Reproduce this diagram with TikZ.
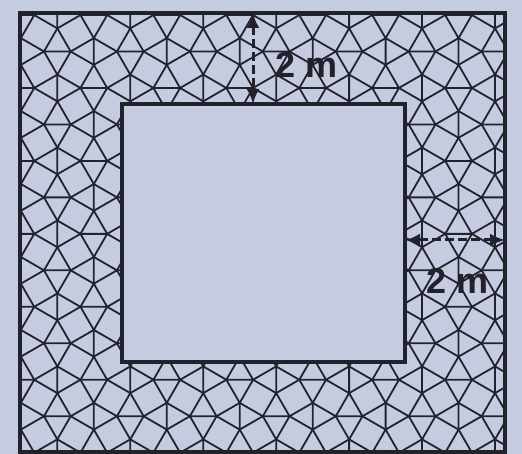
\documentclass[tikz,border=0pt]{standalone}
\usepackage{fontspec}
\setmainfont{Liberation Sans}
\usetikzlibrary{arrows.meta,positioning}
\definecolor{paper}{RGB}{198,204,224}
\definecolor{ink}{RGB}{34,34,44}

\begin{document}
\begin{tikzpicture}[x=1pt, y=1pt,
  tile/.style={draw=ink, line width=1.8pt, line join=round},
  wall/.style={draw=ink, line width=3.2pt},
  dim/.style={{Latex[length=15pt,width=13pt]}-{Latex[length=15pt,width=13pt]}, draw=ink, line width=3pt, dash pattern=on 9pt off 4pt},
  lab/.style={font=\fontsize{36}{38}\selectfont\bfseries, text=ink, inner sep=0pt}
]
  \useasboundingbox[fill=paper] (0,0) rectangle (522,454);
  \coordinate (o1) at (20,2);
  \coordinate (o2) at (505,441);
  \coordinate (i1) at (122,92);
  \coordinate (i2) at (405,350);

  % snub square tiling in the path
  \pgfmathsetmacro\a{26.7}
  \pgfmathsetmacro\r{\a/sqrt(2)}
  \pgfmathsetmacro\L{\a*(1+sqrt(3))/sqrt(2)}
  \begin{scope}
    \clip (o1) rectangle (o2);
    \begin{scope}[shift={(185,56)}, rotate=45]
      \foreach \i in {-5,...,11}{
        \foreach \j in {-7,...,9}{
          \begin{scope}[shift={(\i*\L,\j*\L)}]
            \draw[tile] (60:\r) -- (150:\r) -- (240:\r) -- (330:\r) -- cycle;
            \draw[tile] ([shift={(\L/2,\L/2)}]30:\r) -- ([shift={(\L/2,\L/2)}]120:\r)
              -- ([shift={(\L/2,\L/2)}]210:\r) -- ([shift={(\L/2,\L/2)}]300:\r) -- cycle;
            \draw[tile] (330:\r) -- ([shift={(\L,0)}]150:\r);
            \draw[tile] (60:\r) -- ([shift={(0,\L)}]240:\r);
          \end{scope}
        }
      }
    \end{scope}
  \end{scope}

  \fill[paper] (i1) rectangle (i2);
  \draw[wall] (o1) rectangle (o2);
  \draw[wall] (i1) rectangle (i2);

  % widths
  \coordinate (v1) at (253,441);
  \coordinate (v2) at (253,350);
  \coordinate (h1) at (405,214);
  \coordinate (h2) at (505,214);
  \draw[dim] (v1) -- (v2);
  \draw[dim] (h1) -- (h2);
  \node[lab] (vlab) at (307,389) {2 m};
  \node[lab] (hlab) at (458,173) {2 m};
\end{tikzpicture}
\end{document}
